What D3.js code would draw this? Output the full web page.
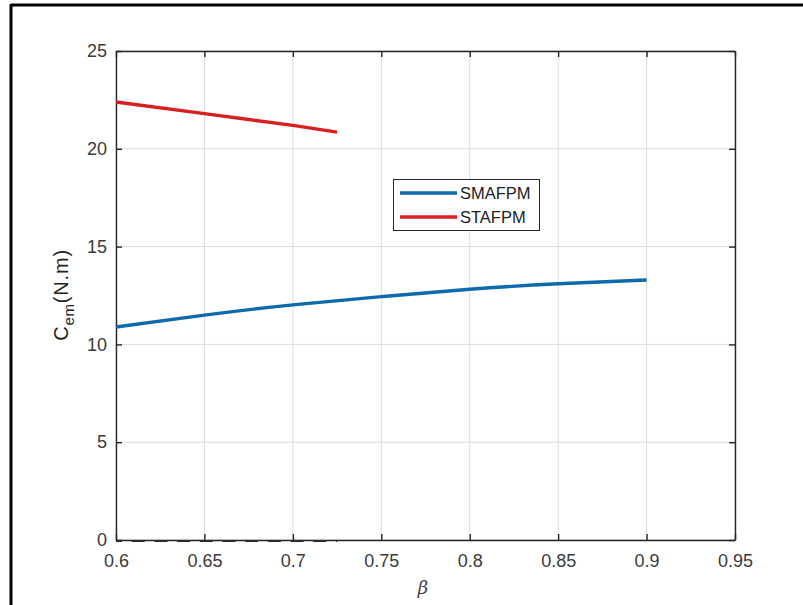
<!DOCTYPE html>
<html>
<head>
<meta charset="utf-8">
<script src="https://cdn.jsdelivr.net/npm/d3@7/dist/d3.min.js"></script>
<style>
  html, body { margin: 0; padding: 0; background: #fff; }
  svg { display: block; }
</style>
</head>
<body>
<svg id="chart" width="803" height="605"></svg>
<script>
// Torque C_em versus beta for the two machine topologies
const betaSMAFPM = [0.6, 0.65, 0.7, 0.75, 0.8, 0.85, 0.9];
const cemSMAFPM  = [10.89, 11.5, 12.02, 12.44, 12.82, 13.1, 13.29];

const betaSTAFPM = [0.6, 0.65, 0.7, 0.725];
const cemSTAFPM  = [22.39, 21.8, 21.2, 20.85];

// dashed baseline at zero
const betaZero = [0.6, 0.725];
const cemZero  = [0, 0];

const xTicks = [0.6, 0.65, 0.7, 0.75, 0.8, 0.85, 0.9, 0.95];
const yTicks = [0, 5, 10, 15, 20, 25];
const seriesNames = ["SMAFPM", "STAFPM"];
const seriesColors = ["#0d6aad", "#d91f1f"];

const svg = d3.select("#chart");
const L = 116, R = 735, T = 51, B = 540;

// outer frame (top and left edges)
svg.append("line").attr("x1", 11).attr("x2", 803).attr("y1", 5).attr("y2", 5)
  .attr("stroke", "#000").attr("stroke-width", 3);
svg.append("line").attr("x1", 11).attr("x2", 11).attr("y1", 4).attr("y2", 605)
  .attr("stroke", "#000").attr("stroke-width", 3);

const x = d3.scaleLinear().domain([0.6, 0.95]).range([L, R]);
const y = d3.scaleLinear().domain([0, 25]).range([B, T]);

const axisColor = "#262626";
const font = "Liberation Sans, Arial, Helvetica, sans-serif";

// grid
const grid = svg.append("g");
grid.selectAll(".gx").data(xTicks).join("line")
  .attr("x1", d => x(d)).attr("x2", d => x(d)).attr("y1", T).attr("y2", B)
  .attr("stroke", "#dcdcdc").attr("stroke-width", 1);
grid.selectAll(".gy").data(yTicks).join("line")
  .attr("x1", L).attr("x2", R).attr("y1", d => y(d)).attr("y2", d => y(d))
  .attr("stroke", "#dcdcdc").attr("stroke-width", 1);

// axes with inward ticks
const tickLen = 6;
const xAxis = d3.axisBottom(x).tickValues(xTicks).tickSizeInner(-tickLen).tickSizeOuter(0)
  .tickPadding(14).tickFormat(d3.format("~g"));
const yAxis = d3.axisLeft(y).tickValues(yTicks).tickSizeInner(-tickLen).tickSizeOuter(0)
  .tickPadding(9).tickFormat(d3.format("~g"));
const xTop = d3.axisTop(x).tickValues(xTicks).tickSizeInner(-tickLen).tickSizeOuter(0).tickFormat("");
const yRight = d3.axisRight(y).tickValues(yTicks).tickSizeInner(-tickLen).tickSizeOuter(0).tickFormat("");

function styleAxis(g) {
  g.select(".domain").attr("stroke", axisColor).attr("stroke-width", 1.4);
  g.selectAll(".tick line").attr("stroke", axisColor).attr("stroke-width", 1.4);
  g.selectAll(".tick text").attr("fill", "#3a3a3a").attr("font-family", font).attr("font-size", 18);
}
svg.append("g").attr("transform", `translate(0,${B})`).call(xAxis).call(styleAxis);
svg.append("g").attr("transform", `translate(${L},0)`).call(yAxis).call(styleAxis);
svg.append("g").attr("transform", `translate(0,${T})`).call(xTop).call(styleAxis);
svg.append("g").attr("transform", `translate(${R},0)`).call(yRight).call(styleAxis);

// data lines
const smooth = d3.line().x(d => x(d[0])).y(d => y(d[1])).curve(d3.curveNatural);
const straight = d3.line().x(d => x(d[0])).y(d => y(d[1]));

svg.append("path").datum(d3.zip(betaZero, cemZero))
  .attr("d", straight).attr("transform", "translate(0,1)")
  .attr("fill", "none").attr("stroke", "#2a2a2a")
  .attr("stroke-width", 2).attr("stroke-dasharray", "13,9.7")
  .attr("stroke-dashoffset", 7);

svg.append("path").datum(d3.zip(betaSMAFPM, cemSMAFPM))
  .attr("d", smooth).attr("fill", "none").attr("stroke", seriesColors[0])
  .attr("stroke-width", 3.4).attr("stroke-linejoin", "round");

svg.append("path").datum(d3.zip(betaSTAFPM, cemSTAFPM))
  .attr("d", straight).attr("fill", "none").attr("stroke", seriesColors[1])
  .attr("stroke-width", 3.4).attr("stroke-linejoin", "round");

// legend
const lg = svg.append("g");
lg.append("rect").attr("x", 393.5).attr("y", 179.5).attr("width", 146).attr("height", 51)
  .attr("fill", "#fff").attr("stroke", axisColor).attr("stroke-width", 1);
seriesNames.forEach((name, i) => {
  const cy = 193 + i * 24;
  lg.append("line").attr("x1", 400).attr("x2", 457).attr("y1", cy).attr("y2", cy)
    .attr("stroke", seriesColors[i]).attr("stroke-width", 3.4);
  lg.append("text").attr("x", 460).attr("y", cy).attr("dy", "0.36em")
    .attr("font-family", font).attr("font-size", 16.5).attr("fill", "#222").text(name);
});

// axis titles
svg.append("text").attr("x", 423).attr("y", 594).attr("text-anchor", "middle")
  .attr("font-family", "DejaVu Serif, Liberation Serif, serif").attr("font-style", "italic")
  .attr("font-size", 18).attr("fill", "#444").text("β");

const yl = svg.append("text")
  .attr("transform", "translate(68,295) rotate(-90)")
  .attr("text-anchor", "middle")
  .attr("font-family", font).attr("font-size", 20).attr("fill", "#222")
  .attr("letter-spacing", 0.8);
yl.append("tspan").text("C");
yl.append("tspan").attr("font-size", 15).attr("dy", 6).text("em");
yl.append("tspan").attr("dy", -6).text("(N.m)");
</script>
</body>
</html>
